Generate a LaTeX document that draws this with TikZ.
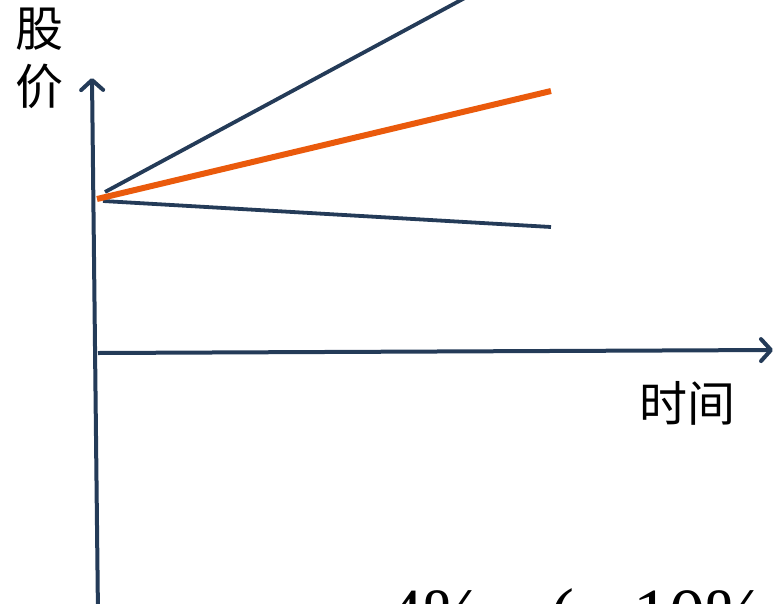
\documentclass[tikz,border=0pt]{standalone}
\usepackage{fontspec}
\setmainfont{Liberation Serif}
\newfontfamily\cjk{Noto Sans CJK SC}
\definecolor{navy}{HTML}{243B58}
\definecolor{flame}{HTML}{EA5A0C}
\usetikzlibrary{arrows.meta}
\tikzset{
  axis/.style={navy, line width=4pt, -{Straight Barb[length=10pt, width=22pt, round]}},
  path line/.style={navy, line width=3.8pt},
  mid line/.style={flame, line width=6pt},
  cjklabel/.style={font=\cjk\fontsize{48}{56}\selectfont, inner sep=0pt}
}
\begin{document}
\begin{tikzpicture}[x=1pt, y=-1pt]
\clip (0,0) rectangle (774,603);

% Axes
\coordinate (origin) at (98,353);
\coordinate (ybottom) at (98,615);
\coordinate (ytop) at (92,78);
\coordinate (xend) at (773,350);
\draw[axis] (ybottom) -- (ytop);
\draw[axis] (origin) -- (xend);

% Axis labels
\node[cjklabel, anchor=north west, align=left] (ylab) at (15,8) {股\\[2pt]价};
\node[cjklabel, anchor=north west] (xlab) at (639,381) {时间};

% Price paths
\coordinate (upstart) at (105,192);
\coordinate (upend) at (487,-14);
\coordinate (midstart) at (97,199);
\coordinate (midend) at (551,91);
\coordinate (lowstart) at (103,201);
\coordinate (lowend) at (551,227);
\draw[path line] (upstart) -- (upend);
\draw[path line] (lowstart) -- (lowend);
\draw[mid line] (midstart) -- (midend);

% Rates, cut by the lower edge
\node[font=\fontsize{72}{80}\selectfont, anchor=base west, inner sep=0pt] (rateA) at (387,638) {4\%};
\node[font=\fontsize{72}{80}\selectfont, anchor=base west, inner sep=0pt] (rateB) at (550,638) {(};
\node[font=\fontsize{72}{80}\selectfont, anchor=base west, inner sep=0pt] (rateC) at (633,638) {10\%};
\end{tikzpicture}
\end{document}
